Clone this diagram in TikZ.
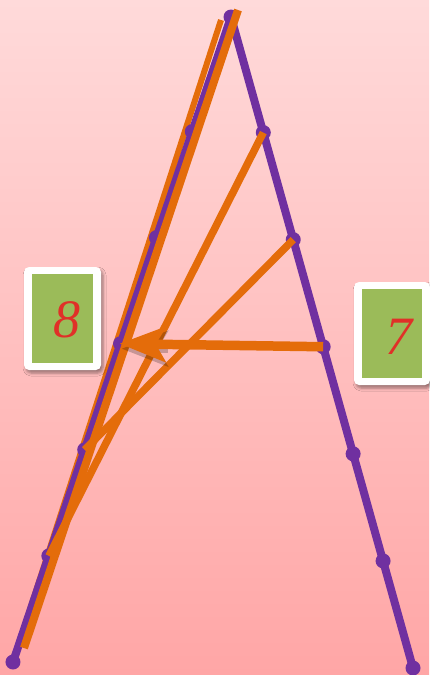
\documentclass[tikz,border=0pt]{standalone}
\usepackage{fontspec}
\setmainfont{Liberation Serif}
\usetikzlibrary{arrows.meta,calc,shadows.blur}
\definecolor{legpurple}{RGB}{112,48,160}
\definecolor{rungorange}{RGB}{228,108,10}
\definecolor{cardgreen}{RGB}{155,187,89}
\definecolor{digitred}{RGB}{224,48,40}
\definecolor{bgtop}{RGB}{255,218,218}
\definecolor{bgbottom}{RGB}{255,166,166}
\tikzset{
  leg/.style={legpurple,line width=8pt,line cap=round,line join=round},
  rung/.style={rungorange,line width=7.5pt},
  dot/.style={fill=legpurple},
  card/.style={fill=white,rounded corners=5pt,minimum width=77pt,minimum height=103pt,
    blur shadow={shadow xshift=2pt,shadow yshift=-3pt,shadow blur radius=3pt}},
  face/.style={fill=cardgreen,minimum width=61pt,minimum height=89pt,inner sep=0pt},
  digit/.style={text=digitred,inner sep=0pt,font=\fontsize{54}{54}\selectfont\itshape},
  head/.style={-{Stealth[length=46pt,width=35pt,inset=10pt]}},
}
\begin{document}
\begin{tikzpicture}[x=1pt,y=-1pt]
  \useasboundingbox (0,0) rectangle (429,675);
  \shade[top color=bgtop,bottom color=bgbottom] (0,0) rectangle (429,675);
  % the two legs
  \coordinate (top) at (231,17);
  \coordinate (footL) at (13,662);
  \coordinate (footR) at (413,668);
  \foreach \i in {1,...,6}{
    \coordinate (L\i) at ($(top)!{0.1775+0.1645*(\i-1)}!(footL)$);
    \coordinate (R\i) at ($(top)!{0.1775+0.1645*(\i-1)}!(footR)$);
  }
  % a rung lying under the left leg
  \coordinate (b1) at (221,20);
  \draw[rung,line width=6pt] (b1) -- (footL);
  \draw[leg] (footL) -- (top) -- (footR);
  \fill[dot] (top) circle (7.5pt);
  \foreach \i in {1,...,6}{
    \fill[dot] (L\i) circle (7.5pt);
    \fill[dot] (R\i) circle (7.5pt);
  }
  % orange rungs
  \coordinate (a1) at (238,10);
  \coordinate (a2) at (24,648);
  \draw[rung,line width=8pt] (a1) -- (a2);
  \draw[rung] (R1) -- (L5);
  \draw[rung] (R2) -- (L4);
  % arrow and the shadow of its head
  \draw[rung,line width=9.5pt,black,opacity=0.22,head] ($(L3)+(47,5)$) -- ($(L3)+(1,5)$);
  \draw[rung,line width=9.5pt,head] (R3) -- ($(L3)+(-1,0)$);
  % the two cards
  \node[card] (card8) at (62.5,318.5) {};
  \node[face] (face8) at (card8.center) {};
  \node[digit] (digit8) at ($(face8.center)+(4,1)$) {8};
  \node[card,minimum width=76pt] (card7) at (392,333.5) {};
  \node[face,minimum width=60pt] (face7) at (card7.center) {};
  \node[digit] (digit7) at ($(face7.center)+(7,3)$) {7};
\end{tikzpicture}
\end{document}
